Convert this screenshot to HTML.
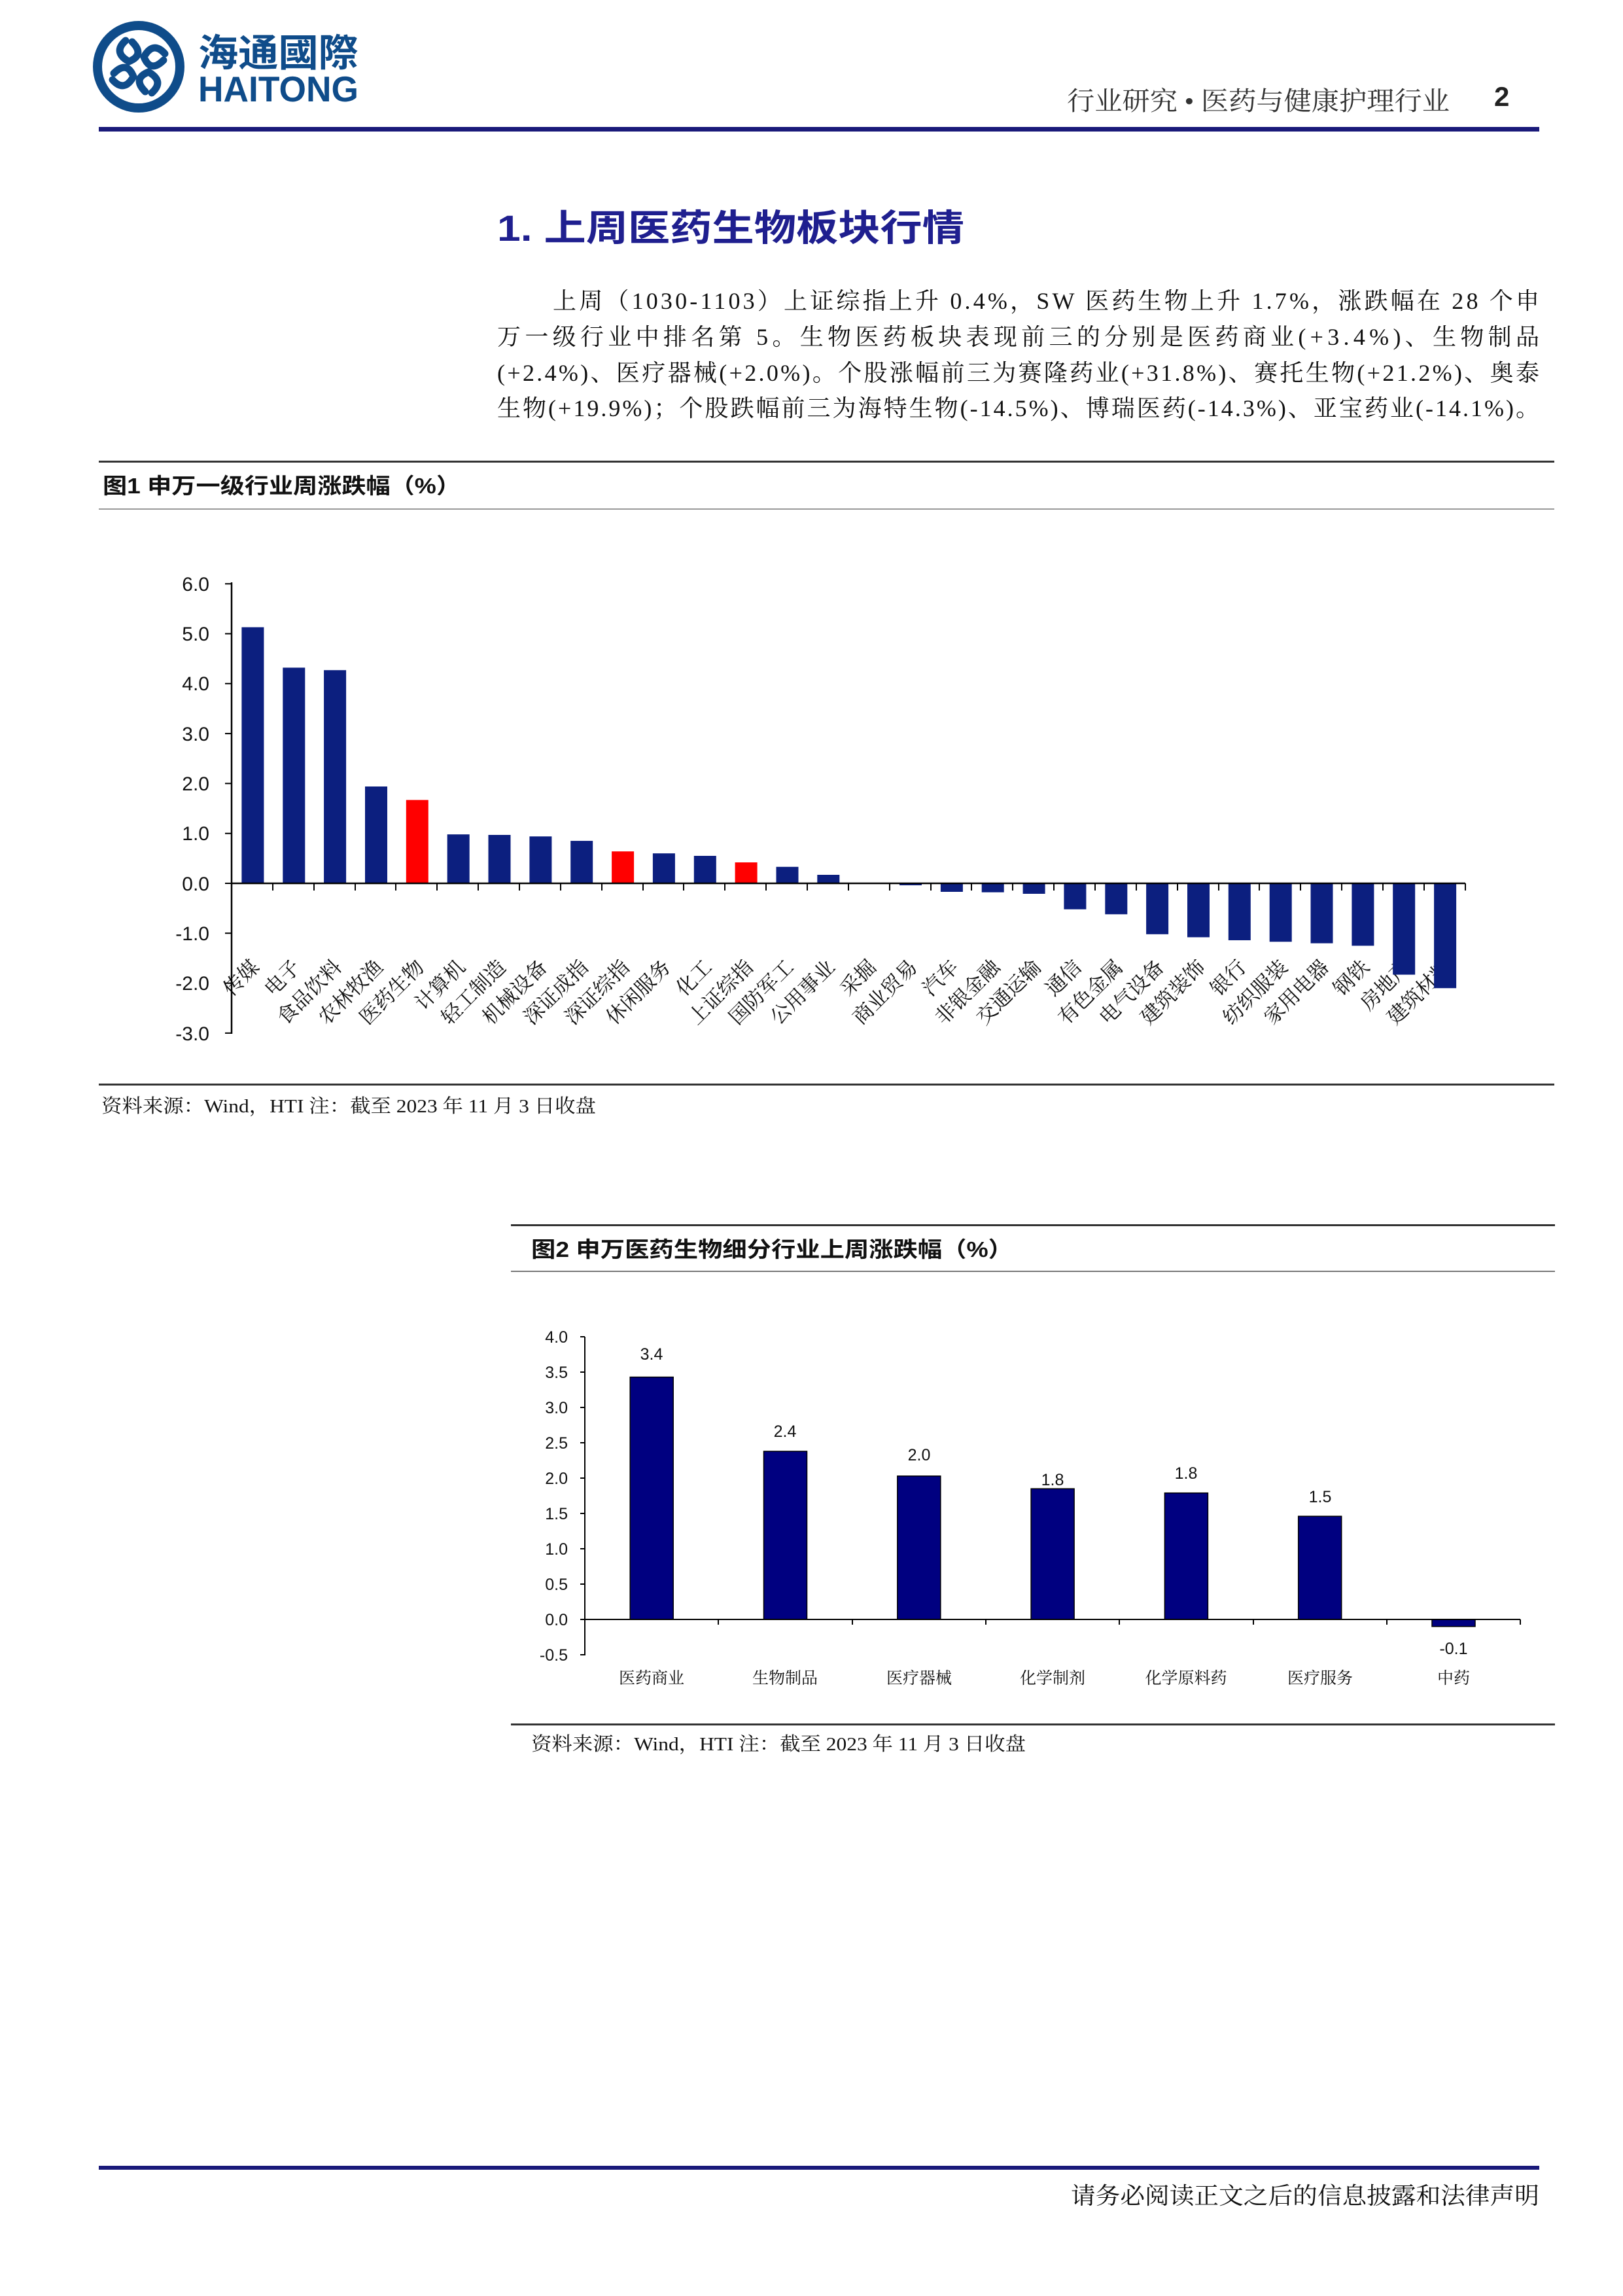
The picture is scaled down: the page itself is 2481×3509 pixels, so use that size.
<!DOCTYPE html>
<html><head><meta charset="utf-8"><style>
html,body{margin:0;padding:0;background:#fff}
svg{display:block}
.s{font-family:"Liberation Serif","Noto Serif CJK SC",serif}
.a{font-family:"Liberation Sans","Noto Sans CJK SC",sans-serif}
</style></head><body>
<svg width="2481" height="3509" viewBox="0 0 2481 3509" xmlns="http://www.w3.org/2000/svg">
<!-- Logo -->
<circle cx="212" cy="102" r="63" fill="none" stroke="#0f4c8a" stroke-width="14"/>
<g fill="none" stroke="#0f4c8a" stroke-width="11" stroke-linecap="round">
<path d="M192 62 q-20 18 5 32 q25 -10 5 -30"/>
<path d="M232 142 q20 -18 -5 -32 q-25 10 -5 30"/>
<path d="M172 122 q18 20 32 -5 q-10 -25 -30 -5"/>
<path d="M252 82 q-18 -20 -32 5 q10 25 30 5"/>
</g>
<text x="303" y="101" class="a" font-size="58" font-weight="bold" fill="#0f4c8a" textLength="245" lengthAdjust="spacingAndGlyphs">海通國際</text>
<text x="303" y="155" class="a" font-size="55" font-weight="bold" fill="#0f4c8a" textLength="245" lengthAdjust="spacingAndGlyphs">HAITONG</text>
<text x="1631" y="168" class="s" font-size="40" fill="#333" textLength="585" lengthAdjust="spacingAndGlyphs">行业研究 • 医药与健康护理行业</text>
<text x="2284" y="162" class="a" font-size="42" font-weight="bold" fill="#222">2</text>
<rect x="151" y="194" width="2202" height="7" fill="#1a1a7a"/>
<!-- Title -->
<text x="760" y="368" class="a" font-size="56" font-weight="bold" fill="#1f1f8f" textLength="714" lengthAdjust="spacingAndGlyphs">1.  上周医药生物板块行情</text>
<!-- Paragraph -->
<g class="s" font-size="36" fill="#111">
<text x="845" y="472" textLength="1508" lengthAdjust="spacing">上周（1030-1103）上证综指上升 0.4%，SW 医药生物上升 1.7%，涨跌幅在 28 个申</text>
<text x="760" y="527" textLength="1593" lengthAdjust="spacing">万一级行业中排名第  5。生物医药板块表现前三的分别是医药商业(+3.4%)、生物制品</text>
<text x="760" y="582" textLength="1593" lengthAdjust="spacing">(+2.4%)、医疗器械(+2.0%)。个股涨幅前三为赛隆药业(+31.8%)、赛托生物(+21.2%)、奥泰</text>
<text x="760" y="636" textLength="1593" lengthAdjust="spacing">生物(+19.9%)；个股跌幅前三为海特生物(-14.5%)、博瑞医药(-14.3%)、亚宝药业(-14.1%)。</text>
</g>
<!-- Figure 1 header -->
<rect x="151" y="704" width="2225" height="3" fill="#333"/>
<text x="157" y="754" class="a" font-size="33" font-weight="bold" fill="#111" textLength="547" lengthAdjust="spacingAndGlyphs">图1   申万一级行业周涨跌幅（%）</text>
<rect x="151" y="777" width="2225" height="2" fill="#999"/>
<!-- Chart 1 -->
<g class="a" font-size="30" fill="#111" text-anchor="end">
<text x="320" y="903">6.0</text><text x="320" y="979">5.0</text><text x="320" y="1055">4.0</text>
<text x="320" y="1132">3.0</text><text x="320" y="1208">2.0</text><text x="320" y="1284">1.0</text>
<text x="320" y="1361">0.0</text><text x="320" y="1437">-1.0</text><text x="320" y="1513">-2.0</text>
<text x="320" y="1590">-3.0</text>
</g>
<g class="s" font-size="31" fill="#111" text-anchor="end">
<text transform="translate(398,1480) rotate(-45)">传媒</text>
<text transform="translate(461,1480) rotate(-45)">电子</text>
<text transform="translate(524,1480) rotate(-45)">食品饮料</text>
<text transform="translate(587,1480) rotate(-45)">农林牧渔</text>
<text transform="translate(650,1480) rotate(-45)">医药生物</text>
<text transform="translate(713,1480) rotate(-45)">计算机</text>
<text transform="translate(775,1480) rotate(-45)">轻工制造</text>
<text transform="translate(838,1480) rotate(-45)">机械设备</text>
<text transform="translate(901,1480) rotate(-45)">深证成指</text>
<text transform="translate(964,1480) rotate(-45)">深证综指</text>
<text transform="translate(1027,1480) rotate(-45)">休闲服务</text>
<text transform="translate(1090,1480) rotate(-45)">化工</text>
<text transform="translate(1153,1480) rotate(-45)">上证综指</text>
<text transform="translate(1215,1480) rotate(-45)">国防军工</text>
<text transform="translate(1278,1480) rotate(-45)">公用事业</text>
<text transform="translate(1341,1480) rotate(-45)">采掘</text>
<text transform="translate(1404,1480) rotate(-45)">商业贸易</text>
<text transform="translate(1467,1480) rotate(-45)">汽车</text>
<text transform="translate(1530,1480) rotate(-45)">非银金融</text>
<text transform="translate(1593,1480) rotate(-45)">交通运输</text>
<text transform="translate(1655,1480) rotate(-45)">通信</text>
<text transform="translate(1718,1480) rotate(-45)">有色金属</text>
<text transform="translate(1781,1480) rotate(-45)">电气设备</text>
<text transform="translate(1844,1480) rotate(-45)">建筑装饰</text>
<text transform="translate(1907,1480) rotate(-45)">银行</text>
<text transform="translate(1970,1480) rotate(-45)">纺织服装</text>
<text transform="translate(2033,1480) rotate(-45)">家用电器</text>
<text transform="translate(2095,1480) rotate(-45)">钢铁</text>
<text transform="translate(2158,1480) rotate(-45)">房地产</text>
<text transform="translate(2221,1480) rotate(-45)">建筑材料</text>
</g>
<g fill="#0c1f7f">
<rect x="369.4" y="958.6" width="34" height="391.4"/>
<rect x="432.3" y="1020.4" width="34" height="329.6"/>
<rect x="495.1" y="1024.2" width="34" height="325.8"/>
<rect x="558" y="1202" width="34" height="148"/>
<rect x="620.8" y="1222.6" width="34" height="127.4" fill="#ff0000"/>
<rect x="683.7" y="1275.2" width="34" height="74.8"/>
<rect x="746.5" y="1276" width="34" height="74"/>
<rect x="809.4" y="1278.3" width="34" height="71.7"/>
<rect x="872.2" y="1285.1" width="34" height="64.9"/>
<rect x="935.1" y="1301.2" width="34" height="48.8" fill="#ff0000"/>
<rect x="997.9" y="1304.2" width="34" height="45.8"/>
<rect x="1060.8" y="1308" width="34" height="42"/>
<rect x="1123.6" y="1318" width="34" height="32" fill="#ff0000"/>
<rect x="1186.5" y="1324.8" width="34" height="25.2"/>
<rect x="1249.3" y="1337" width="34" height="13"/>
<rect x="1375" y="1350" width="34" height="3"/>
<rect x="1437.9" y="1350" width="34" height="13"/>
<rect x="1500.7" y="1350" width="34" height="13.7"/>
<rect x="1563.6" y="1350" width="34" height="16"/>
<rect x="1626.4" y="1350" width="34" height="39.7"/>
<rect x="1689.3" y="1350" width="34" height="47.3"/>
<rect x="1752.1" y="1350" width="34" height="77.8"/>
<rect x="1815" y="1350" width="34" height="82.4"/>
<rect x="1877.8" y="1350" width="34" height="87"/>
<rect x="1940.7" y="1350" width="34" height="89.3"/>
<rect x="2003.5" y="1350" width="34" height="91.6"/>
<rect x="2066.4" y="1350" width="34" height="95.4"/>
<rect x="2129.2" y="1350" width="34" height="139.6"/>
<rect x="2192.1" y="1350" width="34" height="160.2"/>
</g>
<g stroke="#000" stroke-width="2.5">
<line x1="354" y1="890" x2="354" y2="1580"/>
<line x1="354" y1="1350" x2="2240" y2="1350"/>
<path d="M344 892.2H354M344 968.5H354M344 1044.8H354M344 1121.1H354M344 1197.4H354M344 1273.7H354M344 1350H354M344 1426.3H354M344 1502.6H354M344 1578.9H354" stroke-width="2"/>
<path d="M354 1350v11M417 1350v11M480 1350v11M543 1350v11M605 1350v11M668 1350v11M731 1350v11M794 1350v11M857 1350v11M920 1350v11M983 1350v11M1045 1350v11M1108 1350v11M1171 1350v11M1234 1350v11M1297 1350v11M1360 1350v11M1423 1350v11M1485 1350v11M1548 1350v11M1611 1350v11M1674 1350v11M1737 1350v11M1800 1350v11M1863 1350v11M1925 1350v11M1988 1350v11M2051 1350v11M2114 1350v11M2177 1350v11M2240 1350v11" stroke-width="2"/>
</g>
<rect x="151" y="1656" width="2225" height="3" fill="#333"/>
<text x="155" y="1700" class="s" font-size="29" fill="#111" textLength="756" lengthAdjust="spacingAndGlyphs">资料来源：Wind，HTI 注：截至 2023 年 11 月 3 日收盘</text>
<!-- Figure 2 header -->
<rect x="781" y="1871" width="1596" height="3" fill="#333"/>
<text x="812" y="1921" class="a" font-size="33" font-weight="bold" fill="#111" textLength="736" lengthAdjust="spacingAndGlyphs">图2   申万医药生物细分行业上周涨跌幅（%）</text>
<rect x="781" y="1942" width="1596" height="2" fill="#777"/>
<!-- Chart 2 -->
<g class="a" font-size="25" fill="#111" text-anchor="end">
<text x="868" y="2052">4.0</text><text x="868" y="2106">3.5</text><text x="868" y="2160">3.0</text>
<text x="868" y="2214">2.5</text><text x="868" y="2268">2.0</text><text x="868" y="2322">1.5</text>
<text x="868" y="2376">1.0</text><text x="868" y="2430">0.5</text><text x="868" y="2484">0.0</text>
<text x="868" y="2538">-0.5</text>
</g>
<g fill="#000080" stroke="#000" stroke-width="1.5">
<rect x="963.2" y="2104.6" width="66" height="370.4"/>
<rect x="1167.5" y="2218" width="66" height="257"/>
<rect x="1371.8" y="2255.8" width="66" height="219.2"/>
<rect x="1576.1" y="2275.2" width="66" height="199.8"/>
<rect x="1780.4" y="2281.7" width="66" height="193.3"/>
<rect x="1984.7" y="2317.3" width="66" height="157.7"/>
<rect x="2189" y="2475" width="66" height="10.8"/>
</g>
<g class="a" font-size="25" fill="#111" text-anchor="middle">
<text x="996" y="2078">3.4</text><text x="1200" y="2196">2.4</text><text x="1405" y="2232">2.0</text>
<text x="1609" y="2270">1.8</text><text x="1813" y="2260">1.8</text><text x="2018" y="2296">1.5</text>
<text x="2222" y="2528">-0.1</text>
</g>
<g class="s" font-size="25" fill="#111" text-anchor="middle">
<text x="996" y="2573">医药商业</text><text x="1200" y="2573">生物制品</text><text x="1405" y="2573">医疗器械</text>
<text x="1609" y="2573">化学制剂</text><text x="1813" y="2573">化学原料药</text><text x="2018" y="2573">医疗服务</text>
<text x="2222" y="2573">中药</text>
</g>
<g stroke="#000" stroke-width="2">
<line x1="894" y1="2043" x2="894" y2="2530"/>
<line x1="894" y1="2475" x2="2324" y2="2475"/>
<path d="M887 2043H894M887 2097H894M887 2151H894M887 2205H894M887 2259H894M887 2313H894M887 2367H894M887 2421H894M887 2475H894M887 2529H894"/>
<path d="M894 2475v8M1098 2475v8M1303 2475v8M1507 2475v8M1711 2475v8M1916 2475v8M2120 2475v8M2324 2475v8"/>
</g>
<rect x="781" y="2634" width="1596" height="3" fill="#333"/>
<text x="812" y="2675" class="s" font-size="29" fill="#111" textLength="756" lengthAdjust="spacingAndGlyphs">资料来源：Wind，HTI 注：截至 2023 年 11 月 3 日收盘</text>
<!-- Footer -->
<rect x="151" y="3310" width="2202" height="6" fill="#1a1a7a"/>
<text x="1637" y="3368" class="s" font-size="36" fill="#111" textLength="716" lengthAdjust="spacingAndGlyphs">请务必阅读正文之后的信息披露和法律声明</text>
</svg>
</body></html>
